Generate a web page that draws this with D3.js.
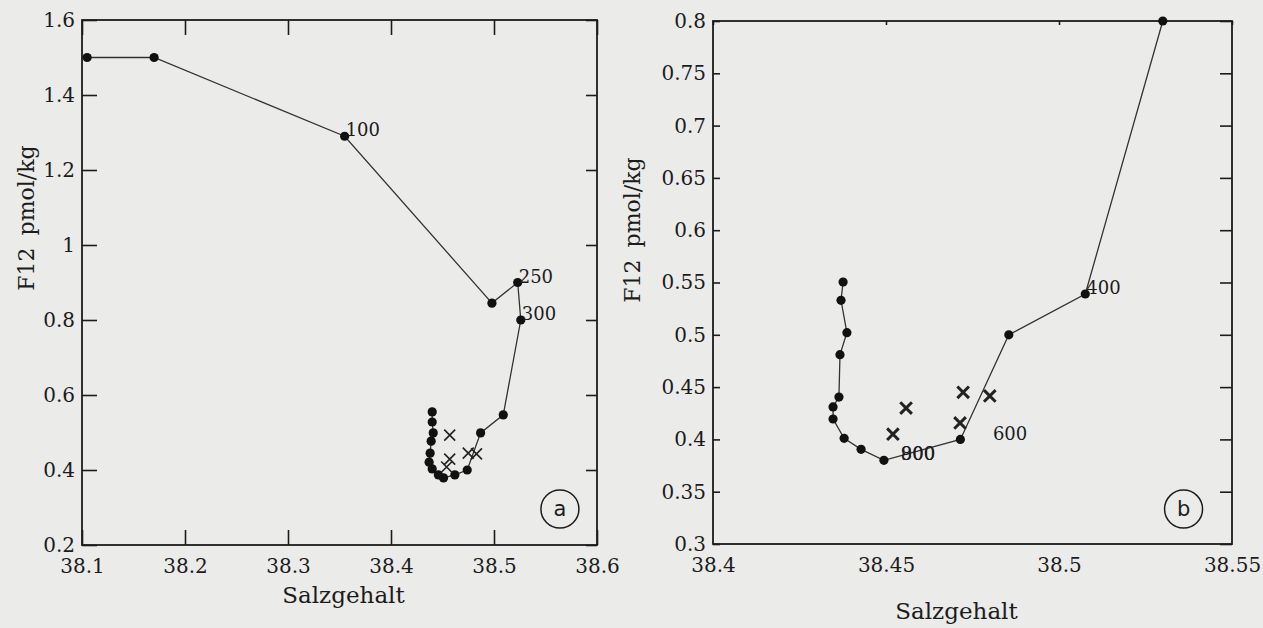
<!DOCTYPE html>
<html>
<head>
<meta charset="utf-8">
<script src="https://cdn.jsdelivr.net/npm/d3@7/dist/d3.min.js"></script>
<style>
  html, body { margin: 0; padding: 0; background: #ebebea; }
  svg { display: block; }
</style>
</head>
<body>
<div id="chart"></div>
<script>
// Panel a: salinity / F12 profile
const aLineSalt = [38.105, 38.17, 38.355, 38.498, 38.523, 38.526, 38.509, 38.487, 38.474, 38.462, 38.451, 38.446, 38.440, 38.437, 38.438, 38.439, 38.441, 38.440, 38.440];
const aLineF12  = [1.5, 1.5, 1.29, 0.845, 0.90, 0.80, 0.547, 0.499, 0.40, 0.387, 0.379, 0.387, 0.403, 0.421, 0.445, 0.477, 0.499, 0.528, 0.555];
const aCrossSalt = [38.457, 38.457, 38.454, 38.475, 38.483];
const aCrossF12  = [0.493, 0.429, 0.408, 0.445, 0.443];
const aDepthText = ['100', '250', '300'];
const aDepthSalt = [38.355, 38.523, 38.526];
const aDepthF12  = [1.29, 0.90, 0.80];
const aXTicks = [38.1, 38.2, 38.3, 38.4, 38.5, 38.6];
const aXTickLabels = ['38.1', '38.2', '38.3', '38.4', '38.5', '38.6'];
const aYTicks = [0.2, 0.4, 0.6, 0.8, 1.0, 1.2, 1.4, 1.6];
const aYTickLabels = ['0.2', '0.4', '0.6', '0.8', '1', '1.2', '1.4', '1.6'];

// Panel b: zoom on the minimum
const bLineSalt = [38.530, 38.5076, 38.4855, 38.4715, 38.4494, 38.4428, 38.4379, 38.4347, 38.4347, 38.4364, 38.4367, 38.4387, 38.437, 38.4376];
const bLineF12  = [0.80, 0.539, 0.50, 0.40, 0.380, 0.3905, 0.401, 0.4195, 0.431, 0.4405, 0.481, 0.502, 0.533, 0.5505];
const bCrossSalt = [38.452, 38.4558, 38.4723, 38.4714, 38.480];
const bCrossF12  = [0.405, 0.430, 0.445, 0.4157, 0.4415];
const bDepthText = ['400', '600', '900', '800'];
const bDepthSalt = [38.5076, 38.4806, 38.454, 38.454];
const bDepthF12  = [0.539, 0.3995, 0.380, 0.380];
const bXTicks = [38.4, 38.45, 38.5, 38.55];
const bXTickLabels = ['38.4', '38.45', '38.5', '38.55'];
const bYTicks = [0.3, 0.35, 0.4, 0.45, 0.5, 0.55, 0.6, 0.65, 0.7, 0.75, 0.8];
const bYTickLabels = ['0.3', '0.35', '0.4', '0.45', '0.5', '0.55', '0.6', '0.65', '0.7', '0.75', '0.8'];

const width = 1263;
const height = 628;
const ink = '#1c1c1c';
const serif = '"DejaVu Serif", "Liberation Serif", serif';

const svg = d3.select('#chart').append('svg')
    .attr('width', width)
    .attr('height', height)
    .attr('viewBox', [0, 0, width, height]);

svg.append('rect')
    .attr('width', width)
    .attr('height', height)
    .attr('fill', '#ebebea');

function drawPanel(p) {
    const x = d3.scaleLinear().domain(p.xDomain).range([p.left, p.right]);
    const y = d3.scaleLinear().domain(p.yDomain).range([p.bottom, p.top]);
    const g = svg.append('g');

    // bottom axis with labels
    g.append('g')
        .attr('transform', `translate(0,${p.bottom})`)
        .call(d3.axisBottom(x).tickValues(p.xTicks)
            .tickFormat((d, i) => p.xTickLabels[i])
            .tickSize(-p.tick.bottom).tickSizeOuter(0).tickPadding(14))
        .call(s => s.select('.domain').remove());

    // left axis with labels
    g.append('g')
        .attr('transform', `translate(${p.left},0)`)
        .call(d3.axisLeft(y).tickValues(p.yTicks)
            .tickFormat((d, i) => p.yTickLabels[i])
            .tickSize(-p.tick.left).tickSizeOuter(0).tickPadding(7))
        .call(s => s.select('.domain').remove());

    // mirrored ticks on top and right
    g.append('g')
        .attr('transform', `translate(0,${p.top})`)
        .call(d3.axisTop(x).tickValues(p.xTicks).tickFormat('')
            .tickSize(-p.tick.top).tickSizeOuter(0))
        .call(s => s.select('.domain').remove());

    g.append('g')
        .attr('transform', `translate(${p.right},0)`)
        .call(d3.axisRight(y).tickValues(p.yTicks).tickFormat('')
            .tickSize(-p.tick.right).tickSizeOuter(0))
        .call(s => s.select('.domain').remove());

    g.selectAll('.tick line').attr('stroke', ink).attr('stroke-width', 1.6);
    g.selectAll('.tick text')
        .style('font-family', serif)
        .style('font-size', '20px')
        .attr('fill', ink);

    // frame
    g.append('rect')
        .attr('x', p.left)
        .attr('y', p.top)
        .attr('width', p.right - p.left)
        .attr('height', p.bottom - p.top)
        .attr('fill', 'none')
        .attr('stroke', ink)
        .attr('stroke-width', 1.8);

    // profile line
    const pts = p.lineSalt.map((s, i) => [s, p.lineF12[i]]);
    g.append('path')
        .datum(pts)
        .attr('fill', 'none')
        .attr('stroke', '#333')
        .attr('stroke-width', 1.3)
        .attr('d', d3.line().x(d => x(d[0])).y(d => y(d[1])));

    g.selectAll('circle.dot')
        .data(pts)
        .join('circle')
        .attr('class', 'dot')
        .attr('cx', d => x(d[0]))
        .attr('cy', d => y(d[1]))
        .attr('r', 4.6)
        .attr('fill', '#111');

    // crosses
    const cross = p.crossSalt.map((s, i) => [s, p.crossF12[i]]);
    g.selectAll('path.cross')
        .data(cross)
        .join('path')
        .attr('class', 'cross')
        .attr('transform', d => `translate(${x(d[0])},${y(d[1])})`)
        .attr('d', d3.symbol(d3.symbolTimes, p.crossSize))
        .attr('fill', 'none')
        .attr('stroke', '#222')
        .attr('stroke-width', p.crossWidth);

    // depth labels
    g.selectAll('text.depth')
        .data(p.depthText)
        .join('text')
        .attr('class', 'depth')
        .attr('x', (d, i) => x(p.depthSalt[i]) + 1)
        .attr('y', (d, i) => y(p.depthF12[i]))
        .style('font-family', serif)
        .style('font-size', '18px')
        .attr('fill', ink)
        .text(d => d);

    // circled panel letter
    const cx = x(p.tag[0]);
    const cy = y(p.tag[1]);
    g.append('circle')
        .attr('cx', cx)
        .attr('cy', cy)
        .attr('r', 19)
        .attr('fill', 'none')
        .attr('stroke', ink)
        .attr('stroke-width', 1.5);
    g.append('text')
        .attr('x', cx)
        .attr('y', cy)
        .attr('dy', '0.35em')
        .attr('text-anchor', 'middle')
        .style('font-family', '"DejaVu Sans", sans-serif')
        .style('font-size', '21px')
        .attr('fill', ink)
        .text(p.tag[2]);

    // axis titles
    g.append('text')
        .attr('x', (p.left + p.right) / 2 + p.xTitleShift)
        .attr('y', p.xTitleY)
        .attr('text-anchor', 'middle')
        .style('font-family', serif)
        .style('font-size', '23px')
        .attr('fill', ink)
        .text('Salzgehalt');

    const yt = g.append('text')
        .attr('transform', `translate(${p.yTitleX},${p.yTitleY}) rotate(-90)`)
        .attr('text-anchor', 'middle')
        .style('font-family', serif)
        .style('font-size', '22px')
        .attr('fill', ink);
    yt.append('tspan').text('F12');
    yt.append('tspan').attr('dx', 12).text('pmol/kg');
}

drawPanel({
    left: 82, right: 597, top: 20, bottom: 545,
    xDomain: [38.1, 38.6], yDomain: [0.2, 1.6],
    xTicks: aXTicks, xTickLabels: aXTickLabels,
    yTicks: aYTicks, yTickLabels: aYTickLabels,
    tick: { bottom: 15, left: 15, top: 15, right: 11 },
    lineSalt: aLineSalt, lineF12: aLineF12,
    crossSalt: aCrossSalt, crossF12: aCrossF12, crossSize: 80, crossWidth: 1.6,
    depthText: aDepthText, depthSalt: aDepthSalt, depthF12: aDepthF12,
    tag: [38.564, 0.296, 'a'],
    xTitleShift: 4, xTitleY: 603,
    yTitleX: 34, yTitleY: 218
});

drawPanel({
    left: 713, right: 1232, top: 21, bottom: 544,
    xDomain: [38.4, 38.55], yDomain: [0.3, 0.8],
    xTicks: bXTicks, xTickLabels: bXTickLabels,
    yTicks: bYTicks, yTickLabels: bYTickLabels,
    tick: { bottom: 0, left: 7, top: 4, right: 12 },
    lineSalt: bLineSalt, lineF12: bLineF12,
    crossSalt: bCrossSalt, crossF12: bCrossF12, crossSize: 90, crossWidth: 3,
    depthText: bDepthText, depthSalt: bDepthSalt, depthF12: bDepthF12,
    tag: [38.536, 0.3334, 'b'],
    xTitleShift: -16, xTitleY: 619,
    yTitleX: 640, yTitleY: 230
});
</script>
</body>
</html>
